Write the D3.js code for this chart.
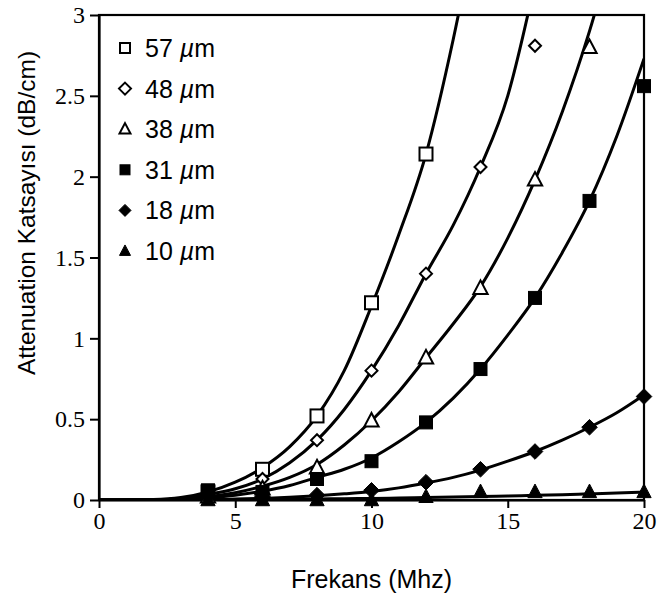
<!DOCTYPE html>
<html><head><meta charset="utf-8">
<script src="https://cdn.jsdelivr.net/npm/d3@7"></script>
<style>body{margin:0;background:#fff}svg{display:block}</style>
</head><body>
<svg id="c" width="657" height="611"></svg>
<script>
// ---- data ----
const seriesNames = ["57", "48", "38", "31", "18", "10"];
const seriesSymbols = ["squareOpen", "diamondOpen", "triangleOpen", "squareFilled", "diamondFilled", "triangleFilled"];
const pointX = [4, 6, 8, 10, 12, 14, 16, 18, 20];
const pts57 = [0.05, 0.19, 0.52, 1.22, 2.14];
const pts48 = [0.03, 0.13, 0.37, 0.80, 1.40, 2.06, 2.81];
const pts38 = [0.02, 0.07, 0.20, 0.49, 0.88, 1.31, 1.98, 2.80];
const pts31 = [0.06, 0.05, 0.13, 0.24, 0.48, 0.81, 1.25, 1.85, 2.56];
const pts18 = [0.02, 0.02, 0.03, 0.06, 0.11, 0.19, 0.30, 0.45, 0.64];
const pts10 = [0.00, 0.00, 0.00, 0.00, 0.02, 0.05, 0.05, 0.05, 0.05];
// fitted trend curves
const curveX = [0, 2, 3, 4, 5, 6, 7, 8, 9, 10, 11, 12, 13, 14, 15, 16, 17, 18, 19, 20];
const fit57 = [0, 0.003, 0.015, 0.05, 0.11, 0.20, 0.33, 0.52, 0.80, 1.20, 1.64, 2.14, 2.85, 3.7];
const fit48 = [0, 0.002, 0.01, 0.035, 0.07, 0.13, 0.23, 0.37, 0.56, 0.80, 1.08, 1.40, 1.70, 2.06, 2.50, 3.2];
const fit38 = [0, 0.001, 0.006, 0.02, 0.045, 0.085, 0.14, 0.22, 0.34, 0.49, 0.67, 0.88, 1.09, 1.32, 1.62, 1.98, 2.40, 2.90, 3.5];
const fit31 = [0, 0.001, 0.005, 0.015, 0.03, 0.055, 0.09, 0.14, 0.19, 0.26, 0.36, 0.48, 0.63, 0.81, 1.02, 1.25, 1.53, 1.85, 2.25, 2.73];
const fit18 = [0, 0, 0.001, 0.003, 0.006, 0.01, 0.017, 0.026, 0.038, 0.053, 0.075, 0.105, 0.14, 0.185, 0.24, 0.30, 0.37, 0.45, 0.54, 0.65];
const fit10 = [0, 0, 0, 0.001, 0.002, 0.003, 0.004, 0.006, 0.008, 0.01, 0.012, 0.015, 0.018, 0.021, 0.025, 0.029, 0.033, 0.038, 0.043, 0.05];
const xTicks = [0, 5, 10, 15, 20];
const yTicks = [0, 0.5, 1, 1.5, 2, 2.5, 3];
const xTitle = "Frekans (Mhz)";
const yTitle = "Attenuation Katsayısı (dB/cm)";

const pointSets = [pts57, pts48, pts38, pts31, pts18, pts10];
const fitSets = [fit57, fit48, fit38, fit31, fit18, fit10];

// ---- layout ----
const svg = d3.select("#c");
const L = 99, R = 644, T = 15, B = 500;
const x = d3.scaleLinear().domain([0, 20]).range([L, R]);
const y = d3.scaleLinear().domain([0, 3]).range([B, T]);

svg.append("defs").append("clipPath").attr("id", "plot")
  .append("rect").attr("x", L).attr("y", T).attr("width", R - L).attr("height", B - T);

// curves
const line = d3.line().x(d => x(d[0])).y(d => y(d[1])).curve(d3.curveMonotoneX);
const gCurves = svg.append("g").attr("clip-path", "url(#plot)");
fitSets.forEach(f => {
  gCurves.append("path")
    .attr("d", line(f.map((v, i) => [curveX[i], v])))
    .attr("fill", "none").attr("stroke", "#000").attr("stroke-width", 3);
});

// frame
svg.append("rect").attr("x", L).attr("y", T).attr("width", R - L).attr("height", B - T)
  .attr("fill", "none").attr("stroke", "#000").attr("stroke-width", 2.2);

// axes
const yAxis = d3.axisLeft(y).tickValues(yTicks).tickSize(9).tickSizeOuter(0).tickFormat(d3.format("~g"));
const gy = svg.append("g").attr("transform", `translate(${L},0)`).call(yAxis);
const xAxis = d3.axisBottom(x).tickValues(xTicks).tickSize(8).tickSizeOuter(0).tickFormat(d3.format("~g"));
const gx = svg.append("g").attr("transform", `translate(0,${B})`).call(xAxis);
[gy, gx].forEach(g => {
  g.select(".domain").attr("stroke", "#000").attr("stroke-width", 2.2);
  g.selectAll(".tick line").attr("stroke", "#000").attr("stroke-width", 2);
  g.selectAll(".tick text").attr("fill", "#000")
    .attr("font-family", "'Liberation Serif','Times New Roman',serif").attr("font-size", 24);
});
gy.selectAll(".tick text").attr("x", -14);
gx.selectAll(".tick text").attr("y", 12);

// titles
svg.append("text").attr("x", (L + R) / 2).attr("y", 588).attr("text-anchor", "middle")
  .attr("font-family", "'Liberation Sans',Arial,sans-serif").attr("font-size", 25).text(xTitle);
svg.append("text").attr("transform", "translate(35,213) rotate(-90)").attr("text-anchor", "middle")
  .attr("font-family", "'Liberation Sans',Arial,sans-serif").attr("font-size", 24.5).text(yTitle);

// markers
function drawMarker(g, type, cx, cy, s) {
  const filled = type.endsWith("Filled");
  let el;
  if (type.startsWith("square")) {
    el = g.append("rect").attr("x", cx - s / 2).attr("y", cy - s / 2).attr("width", s).attr("height", s);
  } else if (type.startsWith("diamond")) {
    const h = s * 0.6;
    el = g.append("path").attr("d", `M${cx},${cy - h}L${cx + h},${cy}L${cx},${cy + h}L${cx - h},${cy}Z`);
  } else {
    const h = s * 0.55;
    el = g.append("path").attr("d", `M${cx},${cy - h * 1.1}L${cx + h},${cy + h * 0.8}L${cx - h},${cy + h * 0.8}Z`);
  }
  el.attr("fill", filled ? "#000" : "#fff").attr("stroke", "#000").attr("stroke-width", filled ? 1 : 2);
}
const gPts = svg.append("g");
pointSets.forEach((p, si) => {
  p.forEach((v, i) => drawMarker(gPts, seriesSymbols[si], x(pointX[i]), y(v), si === 1 ? 10 : 13));
});

// legend
const gLeg = svg.append("g");
seriesNames.forEach((n, i) => {
  const cy = 48 + i * 40.6;
  drawMarker(gLeg, seriesSymbols[i], 125, cy, 10);
  const t = gLeg.append("text").attr("x", 145).attr("y", cy + 9)
    .attr("font-family", "'Liberation Sans',Arial,sans-serif").attr("font-size", 25);
  t.append("tspan").text(n + " ");
  t.append("tspan").attr("font-style", "italic").text("µ");
  t.append("tspan").text("m");
});
</script>
</body></html>
